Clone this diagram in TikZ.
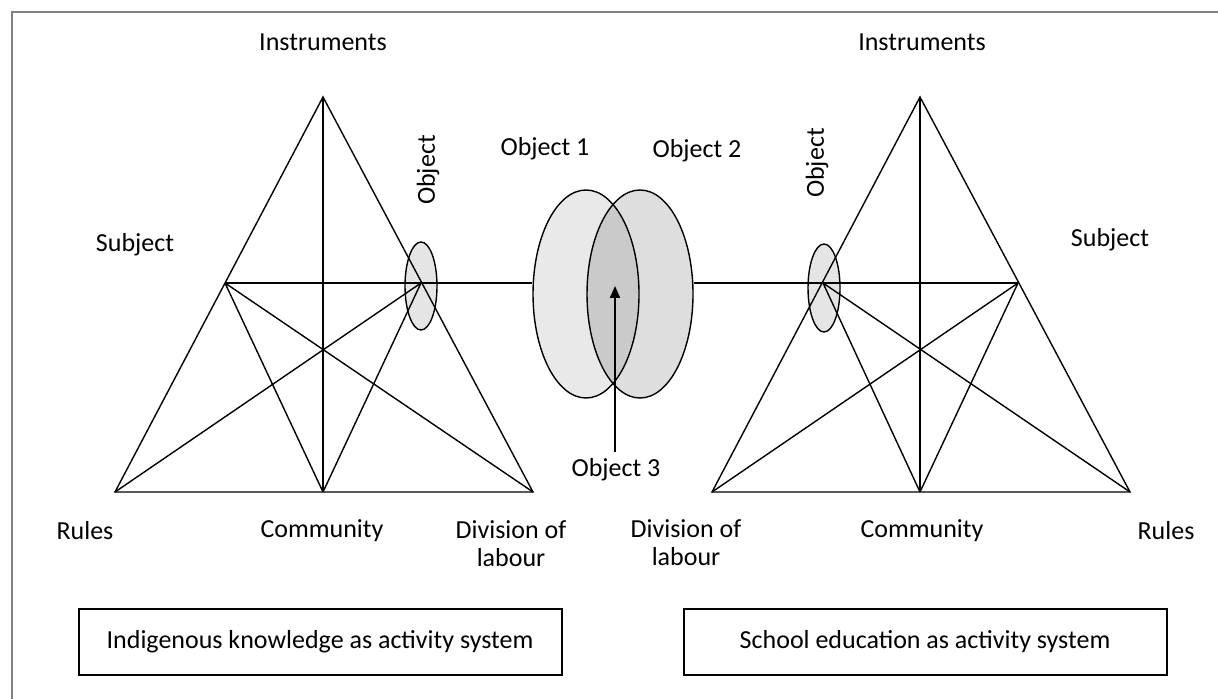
\documentclass[tikz,border=0pt]{standalone}
\usepackage{fontspec}
\setmainfont{Carlito}
\usetikzlibrary{arrows.meta,shapes.geometric}

\begin{document}
\begin{tikzpicture}[x=0.5pt, y=-0.5pt, line width=0.7pt,
  lbl/.style={font=\fontsize{13}{14}\selectfont, inner sep=0pt, align=center},
  bigobj/.style={draw, ellipse, minimum width=53pt, minimum height=104pt, inner sep=0pt},
  smallobj/.style={draw, ellipse, fill=gray!20, minimum width=16pt, minimum height=44pt, inner sep=0pt},
  sysbox/.style={draw, line width=1pt, minimum width=241.5pt, minimum height=33pt, font=\fontsize{13}{14}\selectfont}]
\useasboundingbox (0,0) rectangle (1218,699);
\draw [color=gray, line width=1pt] (12,699) -- (12,12) -- (1218,12);

% shared objects in the middle
\node [bigobj, fill=gray!17] (obj1) at (586,294) {};
\node [bigobj, fill=black, fill opacity=0.13] (obj2) at (640,294) {};
\node [lbl] at (545,149) {Object 1};
\node [lbl] at (697,151) {Object 2};
\node [lbl] (obj3) at (616,470) {Object 3};
\coordinate (o3tip) at (615,286);
\draw [line width=1pt, -{Triangle[length=6pt,width=5pt]}] (o3tip |- obj3.north) ++(0,-6) -- (o3tip);

% left activity system
\coordinate (LA) at (323,97);
\coordinate (LL) at (115,492);
\coordinate (LM) at (323,492);
\coordinate (LR) at (533,492);
\coordinate (LS) at (225,283);
\coordinate (LO) at (421,283);
\node [smallobj] (lobj) at (421,286) {};
\draw (LA) -- (LL) -- (LR) -- cycle;
\draw (LA) -- (LM);
\draw (LS) -- (LO) -- (obj1.west |- LO);
\draw (LS) -- (LM) (LS) -- (LR);
\draw (LO) -- (LL) (LO) -- (LM);
\node [lbl] at (323,42) {Instruments};
\node [lbl] at (135,245) {Subject};
\node [lbl, rotate=90] at (428,170) {Object};
\node [lbl] at (85,531) {Rules};
\node [lbl] at (322,531) {Community};
\node [lbl] at (511,544) {Division of\\labour};
\node [sysbox] (lsys) at (320,642) {Indigenous knowledge as activity system};

% right activity system
\coordinate (RA) at (920,97);
\coordinate (RL) at (712,492);
\coordinate (RM) at (920,492);
\coordinate (RR) at (1130,492);
\coordinate (RS) at (1018,283);
\coordinate (RO) at (823,283);
\node [smallobj] (robj) at (824,288) {};
\draw (RA) -- (RL) -- (RR) -- cycle;
\draw (RA) -- (RM);
\draw (obj2.east |- RO) -- (RO) -- (RS);
\draw (RO) -- (RM) (RO) -- (RR);
\draw (RS) -- (RL) (RS) -- (RM);
\node [lbl] at (922,42) {Instruments};
\node [lbl] at (1110,240) {Subject};
\node [lbl, rotate=90] at (817,163) {Object};
\node [lbl] at (686,543) {Division of\\labour};
\node [lbl] at (922,531) {Community};
\node [lbl] at (1166,531) {Rules};
\node [sysbox] (rsys) at (925,642) {School education as activity system};
\end{tikzpicture}
\end{document}
